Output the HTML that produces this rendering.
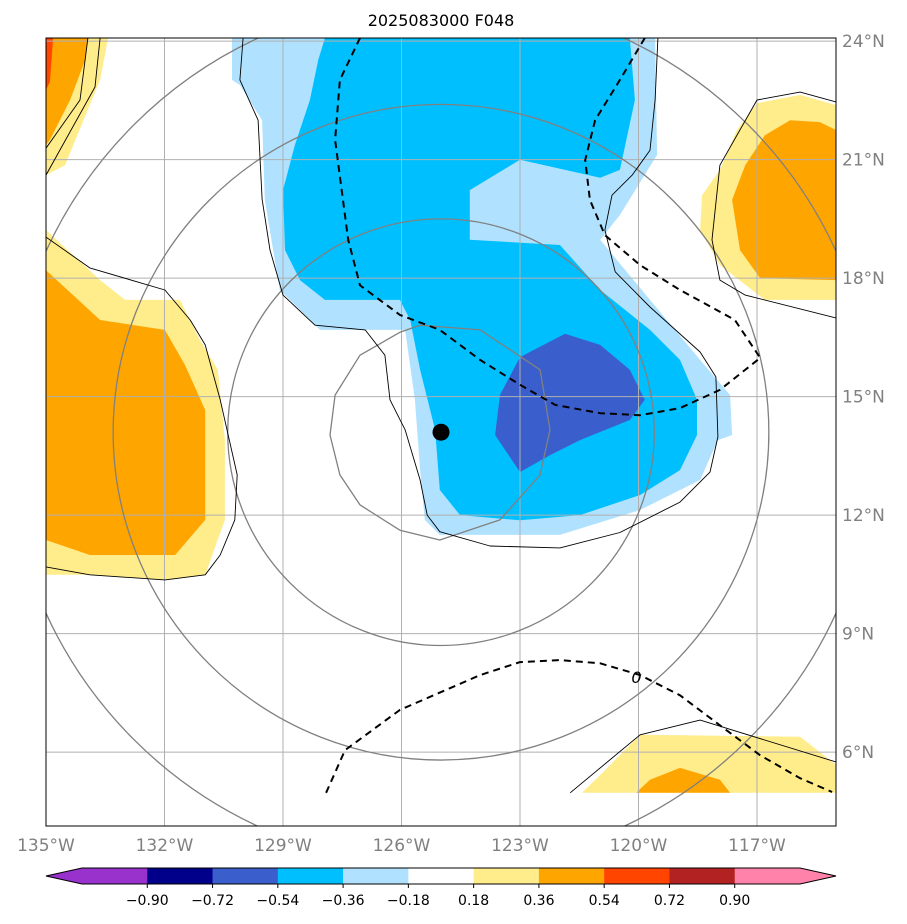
<!DOCTYPE html>
<html><head><meta charset="utf-8"><style>
body{margin:0;background:#fff;}
svg{display:block;font-family:"DejaVu Sans","Liberation Sans",sans-serif;}
</style></head><body>
<svg id="chart" width="907" height="924" viewBox="0 0 907 924" xmlns="http://www.w3.org/2000/svg">
<defs><clipPath id="mapclip"><rect x="46" y="38" width="790" height="788"/></clipPath></defs>
<rect width="907" height="924" fill="#fff"/>
<text x="441" y="26" text-anchor="middle" font-size="16" fill="#000">2025083000 F048</text>
<g id="map" clip-path="url(#mapclip)"></g>
<rect x="46" y="38" width="790" height="788" fill="none" stroke="#000" stroke-width="1"/>
<g id="axes"></g>
<g id="cbar"></g>
</svg>
<script>
const NS="http://www.w3.org/2000/svg";
const lonMin=-135, lonMax=-115, latMin=4.13, latMax=24.08;
const X0=46, X1=836, Y0=38, Y1=826;
function px(lon){return X0+(lon-lonMin)/(lonMax-lonMin)*(X1-X0);}
function py(lat){return Y0+(latMax-lat)/(latMax-latMin)*(Y1-Y0);}

const lonTicks=[-135,-132,-129,-126,-123,-120,-117];
const lonLabels=["135°W","132°W","129°W","126°W","123°W","120°W","117°W"];
const latTicks=[24,21,18,15,12,9,6];
const latLabels=["24°N","21°N","18°N","15°N","12°N","9°N","6°N"];

const fillLightBlueOuter=[[-130.29,24.08],[-119.58,24.08],[-119.53,21.12],[-120.47,19.6],[-120.97,18.97],[-119.71,17.45],[-118.44,15.93],[-117.68,15.04],[-117.63,14.03],[-117.99,13.9],[-118.44,12.89],[-119.96,12.13],[-121.99,11.5],[-125.03,11.5],[-125.41,11.88],[-125.53,13.14],[-125.66,14.92],[-125.91,16.69],[-128.06,16.69],[-129.08,17.7],[-129.46,19.98],[-129.53,22.0],[-130.09,22.89],[-130.29,23.02]];
const fillDeepBlue=[[-127.94,24.08],[-120.22,24.08],[-120.09,22.51],[-120.47,20.74],[-120.97,20.54],[-123.0,21.0],[-124.27,20.23],[-124.27,18.97],[-121.99,18.84],[-120.97,17.7],[-119.71,16.69],[-118.95,15.93],[-118.52,14.92],[-118.52,14.03],[-118.95,13.14],[-119.96,12.51],[-121.48,12.0],[-123.0,11.87],[-124.52,12.0],[-125.03,12.64],[-125.15,14.16],[-125.53,15.68],[-125.78,16.94],[-126.04,17.45],[-127.94,17.45],[-128.57,17.95],[-128.95,18.71],[-129.0,20.23],[-128.7,21.37],[-128.32,22.51],[-128.11,23.52]];
const fillRoyalBlue=[[-123.0,16.0],[-121.86,16.59],[-120.97,16.31],[-120.22,15.68],[-119.84,14.92],[-120.22,14.41],[-121.48,13.9],[-122.24,13.52],[-123.0,13.09],[-123.63,14.03],[-123.51,15.04]];
const fillLeftYellow=[[-135,19.22],[-133.63,17.95],[-133.0,17.45],[-131.61,17.45],[-131.1,16.43],[-130.65,15.68],[-130.47,13.9],[-130.47,11.88],[-130.97,10.49],[-131.99,10.36],[-133.89,10.49],[-135,10.49]];
const fillLeftOrange=[[-135,18.2],[-133.63,16.94],[-131.99,16.69],[-131.48,15.8],[-130.97,14.66],[-130.97,11.88],[-131.73,10.99],[-133.89,10.99],[-135,11.37]];
const fillTLYellow=[[-135,24.08],[-133.43,24.08],[-133.63,23.02],[-134.52,20.86],[-135,20.61]];
const fillTLOrange=[[-135,24.08],[-133.94,24.08],[-134.01,23.52],[-134.39,22.51],[-134.9,21.5],[-135,21.37]];
const fillTLRed=[[-135,24.08],[-134.82,24.08],[-134.9,22.97],[-135,22.76]];
const fillRYellow=[[-117.0,22.43],[-115.91,22.64],[-115,22.38],[-115,17.45],[-116.8,17.45],[-117.94,18.33],[-118.44,19.22],[-118.39,20.1],[-117.94,20.74],[-117.51,21.75]];
const fillROrange=[[-116.16,22.0],[-115.41,21.95],[-115,21.75],[-115,17.95],[-116.92,18.0],[-117.43,18.71],[-117.63,19.98],[-117.3,20.86],[-116.8,21.62]];
const fillBRYellow=[[-121.43,4.97],[-120.97,5.42],[-119.96,6.44],[-115.91,6.39],[-115,5.68],[-115,4.97]];
const fillBROrange=[[-120.06,4.97],[-119.71,5.3],[-118.95,5.6],[-117.94,5.3],[-117.68,4.97]];

const thinLeft=[[-135,19.04],[-133.89,18.26],[-131.99,17.7],[-131.35,16.94],[-130.97,16.31],[-130.59,14.92],[-130.16,13.02],[-130.22,11.88],[-130.59,10.99],[-130.97,10.49],[-131.99,10.36],[-133.89,10.49],[-135,10.69]];
const thinCenter=[[-130.01,24.08],[-130.09,23.02],[-129.63,22.0],[-129.53,20.0],[-129.33,18.71],[-129.0,17.57],[-128.19,16.81],[-126.92,16.69],[-126.42,16.05],[-126.29,14.92],[-125.91,14.16],[-125.53,12.89],[-125.35,12.0],[-125.03,11.58],[-123.76,11.22],[-121.99,11.17],[-120.47,11.56],[-118.95,12.33],[-118.19,13.09],[-117.99,13.98],[-118.04,15.5],[-118.44,16.13],[-119.71,17.27],[-120.59,18.16],[-120.85,19.22],[-120.67,20.1],[-120.16,20.61],[-119.71,21.24],[-119.58,22.51],[-119.51,24.08]];
const thinTL1=[[-135,20.61],[-133.76,22.84],[-133.63,24.08]];
const thinTL2=[[-135,21.29],[-134.14,22.51],[-133.94,24.08]];
const thinRight=[[-115,22.46],[-115.91,22.71],[-117.0,22.51],[-117.94,20.86],[-118.14,18.97],[-117.94,17.95],[-117.3,17.57],[-115,16.99]];
const thinBR=[[-121.73,4.97],[-119.96,6.44],[-118.44,6.81],[-115,5.75]];

const dashA=[[-127.05,24.08],[-127.56,23.02],[-127.68,21.5],[-127.35,18.97],[-127.05,17.82],[-126.04,17.07],[-125.03,16.69],[-124.01,15.93],[-123.0,15.3],[-122.11,14.79],[-120.97,14.58],[-119.96,14.53],[-118.95,14.71],[-117.94,15.17],[-116.92,15.98],[-117.56,16.94],[-118.95,17.7],[-119.96,18.33],[-120.85,19.09],[-121.23,19.98],[-121.35,20.99],[-121.1,22.0],[-120.47,23.02],[-119.84,24.08]];
const dashB=[[-127.91,4.97],[-127.43,6.05],[-126.04,7.07],[-124.01,7.95],[-123.0,8.28],[-121.99,8.33],[-120.97,8.25],[-119.96,7.95],[-118.95,7.44],[-117.94,6.68],[-116.92,5.92],[-115.91,5.34],[-115.1,4.99]];

const innerRing=[[-125.53,16.81],[-124.01,16.69],[-122.49,15.68],[-122.24,14.16],[-122.49,13.02],[-123.51,11.88],[-125.03,11.37],[-126.04,11.62],[-127.05,12.26],[-127.56,13.02],[-127.81,14.03],[-127.68,15.04],[-127.05,16.05],[-126.04,16.63]];
const center=[-125.0,14.1];
const ringRadii=[5.4,8.3,11.0];

const cbLevels=["−0.90","−0.72","−0.54","−0.36","−0.18","0.18","0.36","0.54","0.72","0.90"];
const cbColors=["#9932cc","#00008b","#3a5fcd","#00bfff","#b0e2ff","#ffffff","#ffec8b","#ffa500","#ff4500","#b22222","#ff82ab"];

function el(tag,attrs,parent){const e=document.createElementNS(NS,tag);for(const k in attrs)e.setAttribute(k,attrs[k]);parent.appendChild(e);return e;}
function pts(a){return a.map(p=>px(p[0]).toFixed(1)+","+py(p[1]).toFixed(1)).join(" ");}
const map=document.getElementById('map');
function poly(a,fill,name){const e=el('polygon',{points:pts(a),fill:fill},map);

}
function line(a,stroke,w,dash,name,closed){const e=el(closed?'polygon':'polyline',{points:pts(a),fill:'none',stroke:stroke,'stroke-width':w,'stroke-linejoin':'round'},map);if(dash)e.setAttribute('stroke-dasharray',dash);

}

poly(fillLightBlueOuter,"#b0e2ff","fill-light-blue");
poly(fillDeepBlue,"#00bfff","fill-deep-sky-blue");
poly(fillRoyalBlue,"#3a5fcd","fill-royal-blue");
poly(fillLeftYellow,"#ffec8b","fill-left-yellow");
poly(fillLeftOrange,"#ffa500","fill-left-orange");
poly(fillTLYellow,"#ffec8b","fill-topleft-yellow");
poly(fillTLOrange,"#ffa500","fill-topleft-orange");
poly(fillTLRed,"#ff4500","fill-topleft-red");
poly(fillRYellow,"#ffec8b","fill-right-yellow");
poly(fillROrange,"#ffa500","fill-right-orange");
poly(fillBRYellow,"#ffec8b","fill-bottomright-yellow");
poly(fillBROrange,"#ffa500","fill-bottomright-orange");

lonTicks.forEach((t,i)=>{const g=el('line',{x1:px(t),x2:px(t),y1:Y0,y2:Y1,stroke:'#b0b0b0','stroke-width':1},map);

});
latTicks.forEach((t,i)=>{const g=el('line',{x1:X0,x2:X1,y1:py(t),y2:py(t),stroke:'#b0b0b0','stroke-width':1},map);

});

line(innerRing,"#808080",1.3,null,"range-ring-inner",true);
ringRadii.forEach(r=>{const c=el('circle',{cx:px(center[0]),cy:py(center[1]),r:(px(center[0]+r)-px(center[0])),fill:'none',stroke:'#808080','stroke-width':1.3},map);

});

line(thinLeft,"#000",0.9,null,"contour-left");
line(thinCenter,"#000",0.9,null,"contour-center");
line(thinTL1,"#000",0.9,null,"contour-topleft-1");
line(thinTL2,"#000",0.9,null,"contour-topleft-2");
line(thinRight,"#000",0.9,null,"contour-right");
line(thinBR,"#000",0.9,null,"contour-bottomright");
line(dashA,"#000",2,"7,5","dashed-contour-upper");
line(dashB,"#000",2,"7,5","dashed-contour-lower");
const zl=el('text',{x:px(-120.05),y:py(7.9)+6,'font-size':16,'text-anchor':'middle','font-style':'italic',fill:'#000'},map);zl.textContent="0";


const dot=el('circle',{cx:px(center[0]),cy:py(center[1]),r:8.5,fill:'#000'},map);



const axes=document.getElementById('axes');
lonTicks.forEach((t,i)=>{const e=el('text',{x:px(t),y:851,'font-size':17,'text-anchor':'middle',fill:'#808080'},axes);e.textContent=lonLabels[i];

});
latTicks.forEach((t,i)=>{const e=el('text',{x:842,y:py(t)+6,'font-size':17,fill:'#808080'},axes);e.textContent=latLabels[i];

});

const cb=document.getElementById('cbar');
const cbX0=82, cbX1=800, cbY=868, cbH=16, n=cbColors.length;
const bw=(cbX1-cbX0)/n;
const lt=el('polygon',{points:`${cbX0},${cbY} 46,${cbY+cbH/2} ${cbX0},${cbY+cbH}`,fill:cbColors[0]},cb);


const rt=el('polygon',{points:`${cbX1},${cbY} 836,${cbY+cbH/2} ${cbX1},${cbY+cbH}`,fill:cbColors[n-1]},cb);


cbColors.forEach((c,i)=>{const r=el('rect',{x:cbX0+i*bw,y:cbY,width:bw+0.5,height:cbH,fill:c},cb);

});
const ol=el('polygon',{points:`46,${cbY+cbH/2} ${cbX0},${cbY} ${cbX1},${cbY} 836,${cbY+cbH/2} ${cbX1},${cbY+cbH} ${cbX0},${cbY+cbH}`,fill:'none',stroke:'#000','stroke-width':1},cb);


cbLevels.forEach((l,i)=>{const x=cbX0+(i+1)*bw;
const tk=el('line',{x1:x,x2:x,y1:cbY+cbH,y2:cbY+cbH+4,stroke:'#000'},cb);


const t=el('text',{x:x,y:905,'font-size':14,'text-anchor':'middle',fill:'#000'},cb);t.textContent=l;

});
</script>
</body></html>
